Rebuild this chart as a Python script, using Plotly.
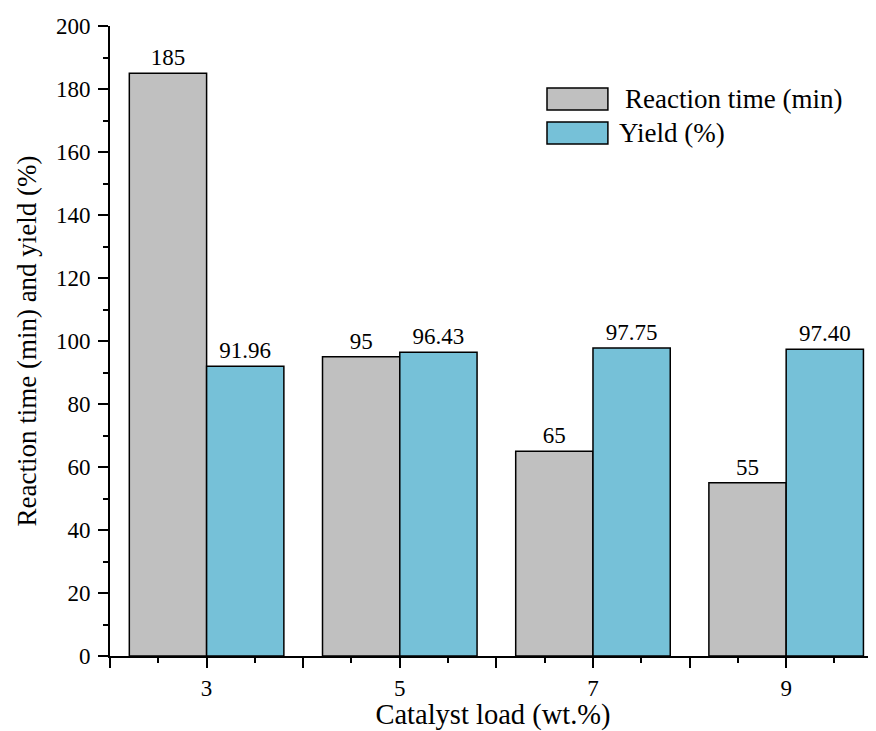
import plotly.graph_objects as go

categories = [3, 5, 7, 9]
reaction_time = [185, 95, 65, 55]
yield_pct = [91.96, 96.43, 97.75, 97.40]
rt_labels = ["185", "95", "65", "55"]
yield_labels = ["91.96", "96.43", "97.75", "97.40"]
x_tickvals = [2, 3, 4, 5, 6, 7, 8, 9]
x_ticktext = ["", "3", "", "5", "", "7", "", "9"]
x_minorvals = [2.5, 3.5, 4.5, 5.5, 6.5, 7.5, 8.5, 9.5]
series_names = ["Reaction time (min)", "Yield (%)"]

GRAY = "#C0C0C0"
BLUE = "#76C1D8"
FONT = "Liberation Serif, Times New Roman, serif"

fig = go.Figure()
fig.add_trace(go.Bar(
    x=categories, y=reaction_time, width=0.8, offset=-0.8,
    marker=dict(color=GRAY, line=dict(color="black", width=1.5)),
    text=rt_labels, textposition="outside", constraintext="none",
    textfont=dict(family=FONT, size=23, color="black"),
    cliponaxis=False, name=series_names[0], showlegend=False,
))
fig.add_trace(go.Bar(
    x=categories, y=yield_pct, width=0.8, offset=0,
    marker=dict(color=BLUE, line=dict(color="black", width=1.5)),
    text=yield_labels, textposition="outside", constraintext="none",
    textfont=dict(family=FONT, size=23, color="black"),
    cliponaxis=False, name=series_names[1], showlegend=False,
))

# manual legend
legend_items = [(GRAY, series_names[0], 0.8667, 0.9016, 0.6697, 0.884),
                (BLUE, series_names[1], 0.8127, 0.8476, 0.6619, 0.830)]
for color, name, y0, y1, tx, ty in legend_items:
    fig.add_shape(type="rect", xref="paper", yref="paper",
                  x0=0.5705, x1=0.650, y0=y0, y1=y1,
                  fillcolor=color, line=dict(color="black", width=1.5))
    fig.add_annotation(xref="paper", yref="paper", x=tx, y=ty,
                       text=name, showarrow=False, xanchor="left", yanchor="middle",
                       font=dict(family=FONT, size=27, color="black"))

fig.update_layout(
    width=868, height=723,
    margin=dict(l=102, r=0, t=18, b=75),
    plot_bgcolor="white", paper_bgcolor="white",
    barmode="overlay",
    font=dict(family=FONT, size=23, color="black"),
    xaxis=dict(
        range=[2, 9.93], tickmode="array", tickvals=x_tickvals, ticktext=x_ticktext,
        ticks="outside", ticklen=10, tickwidth=2, tickcolor="black",
        showline=True, linewidth=2, linecolor="black", showgrid=False, zeroline=False,
        minor=dict(tickmode="array", tickvals=x_minorvals, ticks="outside",
                   ticklen=5, tickwidth=2, tickcolor="black", showgrid=False),
        tickfont=dict(family=FONT, size=23),
        title=dict(text="Catalyst load (wt.%)", font=dict(family=FONT, size=28.5), standoff=4),
        ticklabelstandoff=0,
    ),
    yaxis=dict(
        range=[0, 200], dtick=20, tick0=0,
        ticks="outside", ticklen=10, tickwidth=2, tickcolor="black",
        showline=True, linewidth=2, linecolor="black", showgrid=False, zeroline=False,
        minor=dict(dtick=10, ticks="outside", ticklen=5, tickwidth=2,
                   tickcolor="black", showgrid=False),
        tickfont=dict(family=FONT, size=23),
        title=dict(text="Reaction time (min) and yield (%)", font=dict(family=FONT, size=27), standoff=11),
        ticklabelstandoff=3,
    ),
)

fig.write_html("out.html")
